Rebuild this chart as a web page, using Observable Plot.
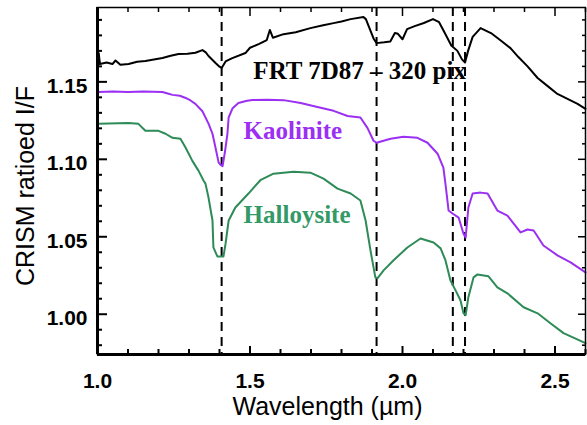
<!DOCTYPE html>
<html><head><meta charset="utf-8">
<script src="https://cdn.jsdelivr.net/npm/d3@7"></script>
<script src="https://cdn.jsdelivr.net/npm/@observablehq/plot@0.6"></script>
<style>body{margin:0;background:#fff}</style>
</head><body><div id="chart"></div>
<script>
// FRT 7D87 – 320 pix (black)
const frtWavelength = [1.000,1.004,1.008,1.030,1.049,1.059,1.075,1.102,1.130,1.157,1.185,1.213,1.240,1.266,1.295,1.321,1.344,1.355,1.364,1.387,1.400,1.407,1.420,1.440,1.485,1.500,1.530,1.555,1.565,1.575,1.610,1.650,1.698,1.740,1.774,1.800,1.830,1.872,1.880,1.890,1.905,1.915,1.940,1.960,1.975,1.985,2.000,2.015,2.040,2.070,2.100,2.120,2.140,2.160,2.180,2.195,2.205,2.215,2.230,2.256,2.290,2.320,2.354,2.380,2.410,2.443,2.475,2.508,2.541,2.574,2.600];
const frtValue = [1.1625,1.1685,1.1615,1.1625,1.1615,1.1638,1.1610,1.1615,1.1630,1.1634,1.1645,1.1654,1.1668,1.1680,1.1682,1.1688,1.1705,1.1690,1.1667,1.1622,1.1598,1.1590,1.1632,1.1652,1.1686,1.1720,1.1745,1.1770,1.1835,1.1785,1.1808,1.1820,1.1847,1.1865,1.1879,1.1890,1.1905,1.1918,1.1905,1.1855,1.1780,1.1750,1.1755,1.1760,1.1815,1.1810,1.1775,1.1840,1.1860,1.1880,1.1905,1.1885,1.1810,1.1735,1.1700,1.1645,1.1625,1.1700,1.1790,1.1847,1.1815,1.1770,1.1718,1.1660,1.1600,1.1525,1.1474,1.1422,1.1390,1.1358,1.1326];

// Kaolinite (purple)
const kaoWavelength = [1.003,1.050,1.100,1.150,1.213,1.230,1.246,1.270,1.289,1.305,1.321,1.344,1.364,1.377,1.387,1.397,1.403,1.410,1.418,1.426,1.430,1.443,1.462,1.490,1.508,1.557,1.610,1.666,1.721,1.774,1.820,1.862,1.885,1.905,1.915,1.961,2.003,2.049,2.082,2.115,2.134,2.141,2.151,2.164,2.184,2.200,2.207,2.216,2.230,2.256,2.279,2.311,2.344,2.387,2.410,2.430,2.462,2.508,2.551,2.600];
const kaoValue = [1.1435,1.1438,1.1435,1.1438,1.1435,1.1425,1.1416,1.1410,1.1396,1.1380,1.1358,1.1310,1.1230,1.1165,1.1075,1.0980,1.0965,1.0955,1.1050,1.1165,1.1270,1.1330,1.1364,1.1378,1.1383,1.1385,1.1382,1.1364,1.1338,1.1313,1.1280,1.1270,1.1203,1.1120,1.1107,1.1133,1.1145,1.1139,1.1107,1.1036,1.0946,1.0840,1.0670,1.0650,1.0624,1.0520,1.0495,1.0689,1.0779,1.0785,1.0779,1.0669,1.0637,1.0528,1.0547,1.0540,1.0444,1.0380,1.0335,1.0270];

// Halloysite (green)
const halWavelength = [1.003,1.102,1.134,1.157,1.200,1.223,1.246,1.272,1.289,1.311,1.331,1.348,1.354,1.364,1.377,1.380,1.393,1.413,1.420,1.430,1.452,1.495,1.534,1.577,1.643,1.698,1.741,1.787,1.830,1.862,1.879,1.895,1.911,1.918,1.938,1.970,2.016,2.059,2.102,2.125,2.141,2.157,2.174,2.190,2.200,2.207,2.216,2.233,2.246,2.282,2.311,2.344,2.397,2.443,2.485,2.528,2.600];
const halValue = [1.1229,1.1235,1.1229,1.1184,1.1184,1.1165,1.1139,1.1133,1.1075,1.0990,1.0927,1.0862,1.0843,1.0753,1.0605,1.0431,1.0373,1.0373,1.0457,1.0605,1.0689,1.0779,1.0865,1.0907,1.0920,1.0914,1.0875,1.0811,1.0779,1.0734,1.0605,1.0412,1.0238,1.0232,1.0283,1.0347,1.0431,1.0489,1.0463,1.0425,1.0347,1.0219,1.0154,1.0090,1.0006,0.9994,1.0110,1.0238,1.0257,1.0245,1.0174,1.0135,1.0045,1.0006,0.9942,0.9878,0.9813];

// Absorption band markers (µm)
const bandLines = [1.407, 1.915, 2.165, 2.205];

// Axis ticks
const xMajorTicks = [1.0, 1.5, 2.0, 2.5];
const xMinorTicks = [1.1,1.2,1.3,1.4,1.6,1.7,1.8,1.9,2.1,2.2,2.3,2.4,2.6];
const yMajorTicks = [1.00, 1.05, 1.10, 1.15];
const yMinorTicks = [0.98,0.99,1.01,1.02,1.03,1.04,1.06,1.07,1.08,1.09,1.11,1.12,1.13,1.14,1.16,1.17,1.18,1.19];

// Curve labels
const labelText = ["FRT 7D87 \u2013 320 pix", "Kaolinite", "Halloysite"];
const labelX = [1.511, 1.479, 1.479];
const labelY = [1.1567, 1.1184, 1.0640];
const labelColor = ["#000000", "#9b30f2", "#339966"];

const toRows = (xs, ys) => xs.map((x, i) => ({x, y: ys[i]}));
const labels = labelText.map((t, i) => ({t, x: labelX[i], y: labelY[i], c: labelColor[i]}));

const sans = "Liberation Sans, Arial, sans-serif";
const serif = "Liberation Serif, Times New Roman, serif";

const chart = Plot.plot({
  width: 587,
  height: 425,
  marginLeft: 97,
  marginRight: 2,
  marginTop: 7,
  marginBottom: 71,
  style: {fontFamily: sans, background: "#fff"},
  x: {domain: [1.0, 2.6]},
  y: {domain: [0.974, 1.198]},
  marks: [
    Plot.ruleX(bandLines, {stroke: "#000", strokeWidth: 2, strokeDasharray: "9,6"}),
    Plot.line(toRows(frtWavelength, frtValue), {x: "x", y: "y", stroke: "#000", strokeWidth: 2}),
    Plot.line(toRows(kaoWavelength, kaoValue), {x: "x", y: "y", stroke: "#9b30f2", strokeWidth: 2}),
    Plot.line(toRows(halWavelength, halValue), {x: "x", y: "y", stroke: "#2e8b57", strokeWidth: 2}),
    Plot.frame({stroke: "#000", strokeWidth: 1.5}),
    Plot.axisX(xMajorTicks, {anchor: "bottom", tickSize: 0, tickPadding: 19, tickFormat: d3.format(".1f"), fontSize: 21, fontWeight: "bold", label: null}),
    Plot.axisX(xMajorTicks, {anchor: "bottom", tickSize: -8, strokeWidth: 2, tickFormat: () => "", label: null}),
    Plot.axisX(xMinorTicks, {anchor: "bottom", tickSize: -5, strokeWidth: 2, tickFormat: () => "", label: null}),
    Plot.axisX(xMajorTicks, {anchor: "top", tickSize: -8, strokeWidth: 1.5, tickFormat: () => "", label: null}),
    Plot.axisX(xMinorTicks, {anchor: "top", tickSize: -4, strokeWidth: 1.5, tickFormat: () => "", label: null}),
    Plot.axisY(yMajorTicks, {anchor: "left", tickSize: 0, tickPadding: 10, dy: 4, tickFormat: d3.format(".2f"), fontSize: 21, fontWeight: "bold", label: null}),
    Plot.axisY(yMajorTicks, {anchor: "left", tickSize: -10, strokeWidth: 2, tickFormat: () => "", label: null}),
    Plot.axisY(yMinorTicks, {anchor: "left", tickSize: -5, strokeWidth: 2, tickFormat: () => "", label: null}),
    Plot.axisY(yMajorTicks, {anchor: "right", tickSize: -8, strokeWidth: 1.5, tickFormat: () => "", label: null}),
    Plot.axisY(yMinorTicks, {anchor: "right", tickSize: -4, strokeWidth: 1.5, tickFormat: () => "", label: null}),
    Plot.ruleX([1.0], {stroke: "#000", strokeWidth: 3}),
    Plot.ruleY([0.974], {stroke: "#000", strokeWidth: 3}),
    Plot.text(labels, {x: "x", y: "y", text: "t", fill: "c", textAnchor: "start", lineAnchor: "middle", fontFamily: serif, fontWeight: "bold", fontSize: 25}),
    Plot.text(["CRISM ratioed I/F"], {frameAnchor: "left", textAnchor: "middle", lineAnchor: "middle", dx: -72, dy: 5, rotate: -90, fontSize: 25, fontFamily: sans, fill: "#000"}),
    Plot.text(["Wavelength (\u00b5m)"], {frameAnchor: "bottom", textAnchor: "middle", dx: -14, dy: 52, lineAnchor: "middle", fontSize: 25, fontFamily: sans, fill: "#000"})
  ]
});
document.getElementById("chart").appendChild(chart);
</script>
</body></html>
